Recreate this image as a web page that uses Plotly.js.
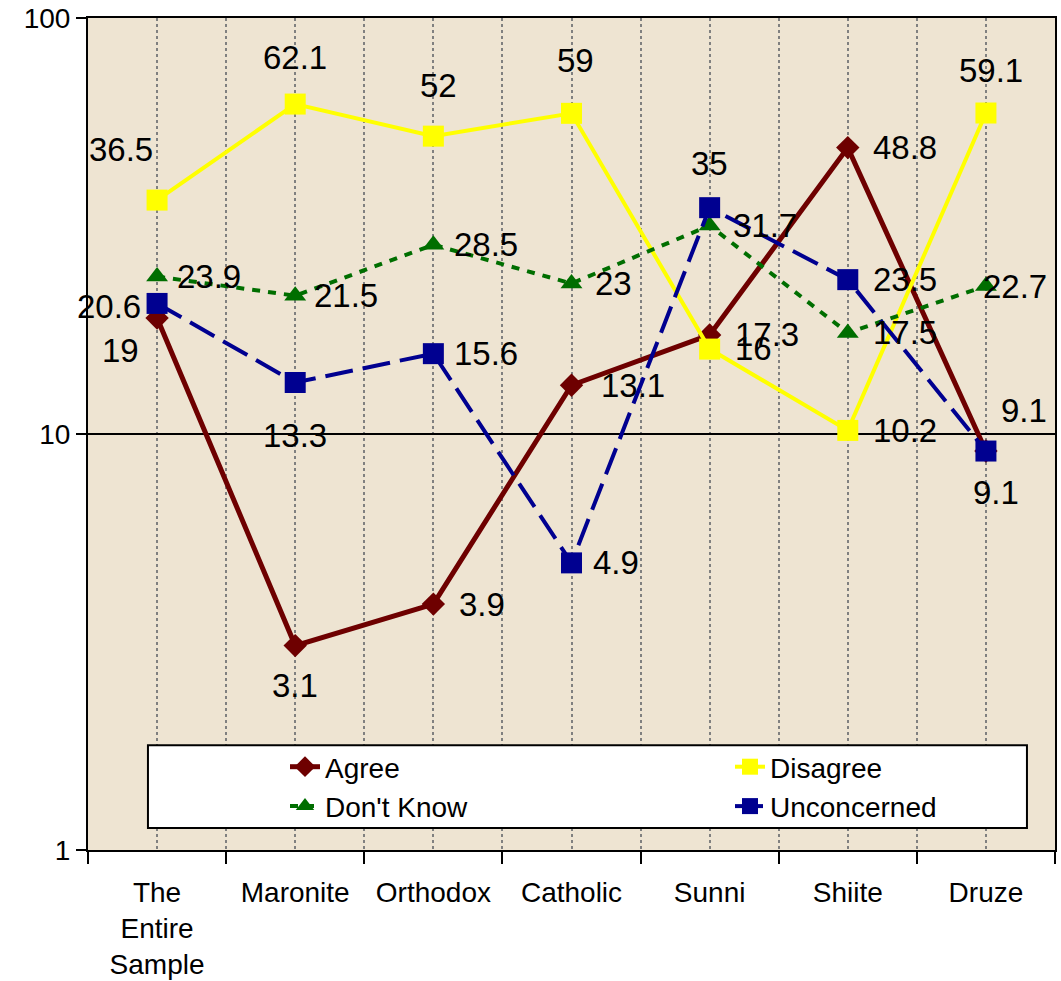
<!DOCTYPE html>
<html>
<head>
<meta charset="utf-8">
<script src="https://cdn.plot.ly/plotly-3.0.1.min.js"></script>
<style>html,body{margin:0;padding:0;background:#fff;}#chart{width:1061px;height:981px;}</style>
</head>
<body>
<div id="chart"></div>
<script>
// ---- data ----
var categories = ["The<br>Entire<br>Sample", "Maronite", "Orthodox", "Catholic", "Sunni", "Shiite", "Druze"];
var agree       = [19, 3.1, 3.9, 13.1, 17.3, 48.8, 9.1];
var disagree    = [36.5, 62.1, 52, 59, 16, 10.2, 59.1];
var dontKnow    = [23.9, 21.5, 28.5, 23, 31.7, 17.5, 22.7];
var unconcerned = [20.6, 13.3, 15.6, 4.9, 35, 23.5, 9.1];
var yTickVals = [1, 10, 100];
var yTickText = ["1", "10", "100"];

// ---- label placement (style only): [anchor, xshift px, yshift px (down positive)] ----
var agreeLbl = [["center",-37,32],["center",0,40],["left",24,0],["left",27,0],["left",23,0],["left",23,0],["left",13,-41]];
var disagreeLbl = [["center",-36,-51],["center",0,-47],["center",5,-51],["center",4,-53],["left",23,-1],["left",23,0],["center",5,-43]];
var dontKnowLbl = [["left",18,0],["left",17,0],["left",19,0],["left",21,0],["left",21,0],["left",23,0],["left",-5,1]];
var unconcernedLbl = [["right",-14,3],["center",0,53],["left",19,0],["left",19,0],["center",0,-44],["left",23,0],["center",10,41]];

var FONT = 'Arial, "Liberation Sans", sans-serif';
var idx = categories.map(function(c, i){ return i; });

var traces = [
  {name:"Agree", x:idx, y:agree, type:"scatter", mode:"lines+markers", legend:"legend",
   line:{color:"#6e0000", width:5}, marker:{symbol:"diamond", size:18, color:"#6e0000"}},
  {name:"Disagree", x:idx, y:disagree, type:"scatter", mode:"lines+markers", legend:"legend2",
   line:{color:"#ffff00", width:4}, marker:{symbol:"square", size:21, color:"#ffff00"}},
  {name:"Don't Know", x:idx, y:dontKnow, type:"scatter", mode:"lines+markers", legend:"legend",
   line:{color:"#006e00", width:4, dash:"8px,8px"}, marker:{symbol:"triangle-up", size:19, color:"#006e00"}},
  {name:"Unconcerned", x:idx, y:unconcerned, type:"scatter", mode:"lines+markers", legend:"legend2",
   line:{color:"#000090", width:4, dash:"28px,10px"}, marker:{symbol:"square", size:21, color:"#000090"}}
];

var annotations = [];
function addLabels(vals, lbl){
  vals.forEach(function(v, i){
    annotations.push({x:idx[i], y:Math.log10(v), xref:"x", yref:"y", text:String(v), showarrow:false,
      xanchor:lbl[i][0], yanchor:"middle", xshift:lbl[i][1], yshift:-lbl[i][2],
      font:{family:FONT, size:33, color:"#000"}});
  });
}
addLabels(agree, agreeLbl);
addLabels(disagree, disagreeLbl);
addLabels(dontKnow, dontKnowLbl);
addLabels(unconcerned, unconcernedLbl);

var legendStyle = function(x){
  return {orientation:"v", xref:"paper", yref:"paper", x:x, y:(850-742)/832, xanchor:"left", yanchor:"top",
    bgcolor:"rgba(0,0,0,0)", borderwidth:0, tracegroupgap:0,
    font:{family:FONT, size:28, color:"#000"}};
};

var layout = {
  width:1061, height:981,
  margin:{l:88, r:6, t:18, b:131},
  paper_bgcolor:"#ffffff", plot_bgcolor:"#eee4d2",
  font:{family:FONT, size:28, color:"#000"},
  showlegend:true,
  xaxis:{type:"linear", range:[-0.5, 6.5], tickmode:"array", tickvals:idx, ticktext:categories,
    ticks:"", ticklabelstandoff:16, showgrid:true, gridcolor:"#808080", griddash:"dot", gridwidth:2,
    showline:true, linecolor:"#000", linewidth:2, mirror:true, zeroline:false,
    tickfont:{family:FONT, size:28, color:"#000"},
    minor:{tick0:-0.5, dtick:1, ticks:"outside", ticklen:12, tickwidth:2, tickcolor:"#000",
      showgrid:true, gridcolor:"#808080", griddash:"dot", gridwidth:2}},
  yaxis:{type:"log", range:[0, 2], tickmode:"array", tickvals:yTickVals, ticktext:yTickText,
    ticks:"outside", ticklen:10, tickwidth:2, tickcolor:"#000",
    showgrid:true, gridcolor:"#000", gridwidth:1.5,
    showline:true, linecolor:"#000", linewidth:2, mirror:true, zeroline:false,
    tickfont:{family:FONT, size:28, color:"#000"}},
  shapes:[{type:"rect", xref:"paper", yref:"paper", x0:0.062, x1:0.971, y0:0.0264, y1:0.126,
    fillcolor:"#ffffff", line:{color:"#000", width:2}, layer:"above"}],
  legend:legendStyle((285-88)/967),
  legend2:legendStyle((730-88)/967),
  annotations:annotations
};

Plotly.newPlot("chart", traces, layout, {displayModeBar:false, staticPlot:true});
</script>
</body>
</html>
